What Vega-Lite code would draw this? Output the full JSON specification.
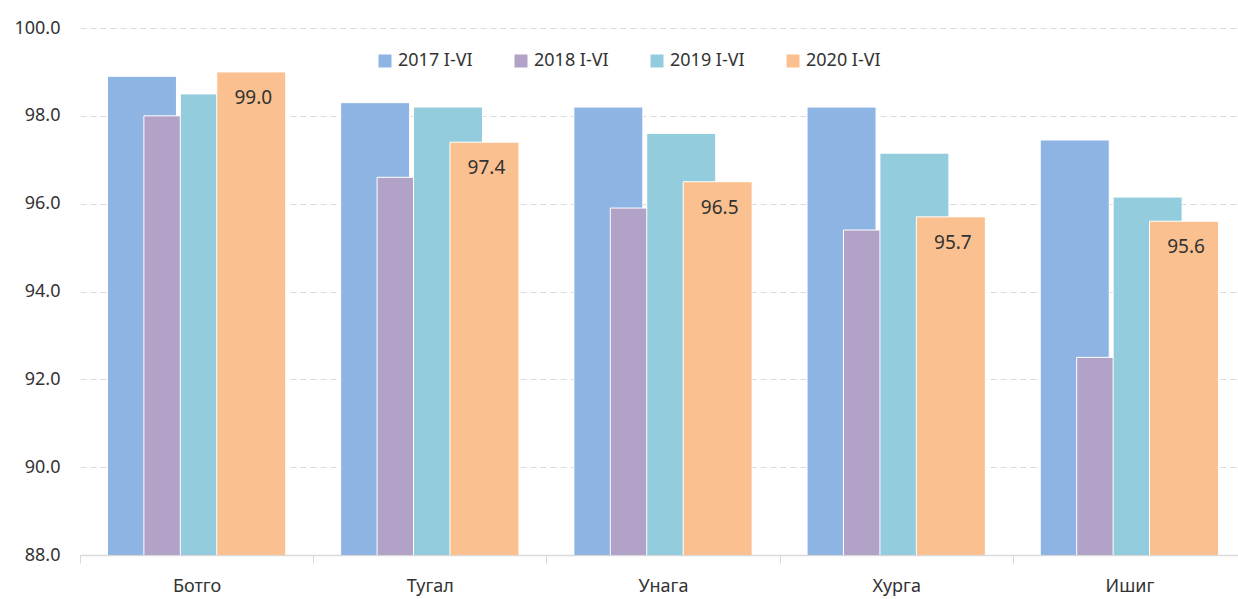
{
  "$schema": "https://vega.github.io/schema/vega-lite/v6.json",
  "width": 1158,
  "height": 527,
  "autosize": {"type": "none"},
  "padding": {"left": 80, "top": 28, "right": 0, "bottom": 44},
  "background": "white",
  "config": {"view": {"stroke": null}, "font": "Noto Sans"},
  "data": {
    "values": [
      {"category": "Ботго", "year": "2017 I-VI", "value": 98.9},
      {"category": "Ботго", "year": "2018 I-VI", "value": 98.0},
      {"category": "Ботго", "year": "2019 I-VI", "value": 98.5},
      {"category": "Ботго", "year": "2020 I-VI", "value": 99.0},
      {"category": "Тугал", "year": "2017 I-VI", "value": 98.3},
      {"category": "Тугал", "year": "2018 I-VI", "value": 96.6},
      {"category": "Тугал", "year": "2019 I-VI", "value": 98.2},
      {"category": "Тугал", "year": "2020 I-VI", "value": 97.4},
      {"category": "Унага", "year": "2017 I-VI", "value": 98.2},
      {"category": "Унага", "year": "2018 I-VI", "value": 95.9},
      {"category": "Унага", "year": "2019 I-VI", "value": 97.6},
      {"category": "Унага", "year": "2020 I-VI", "value": 96.5},
      {"category": "Хурга", "year": "2017 I-VI", "value": 98.2},
      {"category": "Хурга", "year": "2018 I-VI", "value": 95.4},
      {"category": "Хурга", "year": "2019 I-VI", "value": 97.15},
      {"category": "Хурга", "year": "2020 I-VI", "value": 95.7},
      {"category": "Ишиг", "year": "2017 I-VI", "value": 97.45},
      {"category": "Ишиг", "year": "2018 I-VI", "value": 92.5},
      {"category": "Ишиг", "year": "2019 I-VI", "value": 96.15},
      {"category": "Ишиг", "year": "2020 I-VI", "value": 95.6}
    ]
  },
  "encoding": {
    "x": {
      "field": "category",
      "type": "nominal",
      "sort": null,
      "scale": {"range": [0, 1166], "paddingInner": 0, "paddingOuter": 0},
      "axis": {
        "title": null,
        "labelAngle": 0,
        "labelFontSize": 18,
        "labelColor": "#333333",
        "labelPadding": 14,
        "tickBand": "extent",
        "tickSize": 8,
        "tickColor": "#d9d9d9",
        "domainColor": "#d9d9d9",
        "domainWidth": 1.5,
        "grid": false
      }
    },
    "xOffset": {
      "field": "year",
      "type": "nominal",
      "sort": null,
      "scale": {
        "domain": ["_a", "2017 I-VI", "2018 I-VI", "2019 I-VI", "2020 I-VI", "_b"],
        "paddingInner": 0,
        "paddingOuter": 0.2
      }
    },
    "y": {
      "field": "value",
      "type": "quantitative",
      "scale": {"domain": [88, 100], "zero": false, "nice": false},
      "axis": {
        "title": null,
        "values": [88, 90, 92, 94, 96, 98, 100],
        "format": ".1f",
        "labelFontSize": 18,
        "labelColor": "#333333",
        "labelPadding": 20,
        "domain": false,
        "ticks": false,
        "grid": true,
        "gridColor": "#d9d9d9",
        "gridDash": [6, 4],
        "gridWidth": 1.2
      }
    }
  },
  "layer": [
    {
      "mark": {"type": "bar", "width": 69, "stroke": "white", "strokeWidth": 1, "clip": true},
      "encoding": {
        "color": {
          "field": "year",
          "type": "nominal",
          "sort": null,
          "scale": {
            "domain": ["2017 I-VI", "2018 I-VI", "2019 I-VI", "2020 I-VI"],
            "range": ["#8EB4E3", "#B3A2C7", "#93CDDD", "#FAC090"]
          },
          "legend": {
            "orient": "none",
            "legendX": 296,
            "legendY": 24,
            "direction": "horizontal",
            "columns": 4,
            "title": null,
            "symbolType": "square",
            "symbolSize": 169,
            "symbolStrokeWidth": 0,
            "labelFontSize": 18,
            "labelColor": "#333333",
            "labelOffset": 4,
            "columnPadding": 39
          }
        }
      }
    },
    {
      "transform": [{"filter": "datum.year === '2020 I-VI'"}],
      "mark": {"type": "text", "dy": 26, "dx": 2, "fontSize": 19, "color": "#333333", "baseline": "middle"},
      "encoding": {
        "text": {"field": "value", "type": "quantitative", "format": ".1f"}
      }
    }
  ]
}
